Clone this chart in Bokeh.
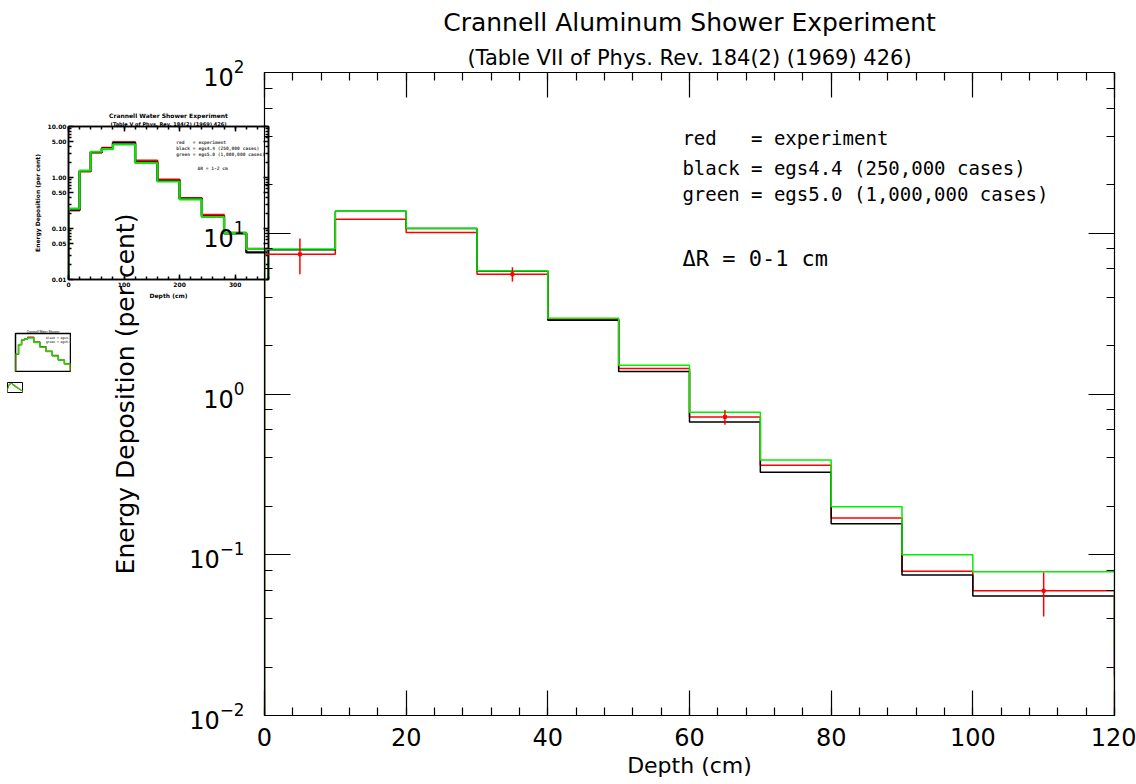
from bokeh.plotting import figure
from bokeh.models import (Range1d, LinearAxis, LogAxis, SingleIntervalTicker, LogTicker,
                          FixedTicker, Title, Label, NumeralTickFormatter, CustomJSTickFormatter)
from bokeh.embed import file_html
from bokeh.resources import INLINE

# ---------------- main chart data: Crannell aluminum, dR = 0-1 cm ----------------
depth_edges = [0, 10, 20, 30, 40, 50, 60, 70, 80, 90, 100, 120]
experiment = [7.4, 12.2, 10.1, 5.56, 2.92, 1.44, 0.72, 0.36, 0.169, 0.079, 0.0597]
egs44 = [7.9, 13.7, 10.7, 5.82, 2.88, 1.38, 0.67, 0.326, 0.156, 0.0748, 0.0553]
egs50 = [7.98, 13.7, 10.75, 5.85, 2.96, 1.51, 0.769, 0.388, 0.199, 0.100, 0.0784]
# value of the (unplotted) bin following the last edge
next_experiment = 0.001
next_egs44 = 0.0177
next_egs50 = 0.027
# experimental error bars
err_bins = [0, 3, 6, 10]
err_low = [5.56, 5.0, 0.644, 0.0413]
err_high = [9.27, 6.14, 0.795, 0.0776]

# ---------------- inset data: Crannell water, dR = 1-2 cm ----------------
water_edges = [0, 20, 40, 60, 80, 120, 160, 200, 240, 280, 320, 360]
water_experiment = [0.227, 1.31, 3.1, 3.8, 4.97, 2.15, 0.91, 0.395, 0.185, 0.082, 0.040]
water_egs44 = [0.235, 1.34, 3.15, 3.7, 4.7, 2.0, 0.86, 0.38, 0.172, 0.080, 0.034]
water_egs50 = [0.245, 1.37, 3.2, 3.6, 4.47, 1.93, 0.835, 0.372, 0.168, 0.082, 0.0396]

NB = "\u00a0"
legend_lines = ["red" + NB * 3 + "= experiment",
                "black = egs4.4 (250,000 cases)",
                "green = egs5.0 (1,000,000 cases)"]

FONT = "DejaVu Sans"
MONO = "DejaVu Sans Mono"
RED = "#ff0000"
GREEN = "#00ee00"
FLOOR = 0.001


def step_xy(edges, vals, nxt):
    xs = [edges[0]] + list(edges)
    ys = [FLOOR] + list(vals) + [nxt]
    return xs, ys


def style_axis(ax, tick_in, minor_in, lw=1.2):
    ax.axis_line_color = "black"
    ax.axis_line_width = lw
    ax.major_tick_in = tick_in
    ax.major_tick_out = 0
    ax.minor_tick_in = minor_in
    ax.minor_tick_out = 0
    ax.major_tick_line_color = "black"
    ax.minor_tick_line_color = "black"
    ax.major_tick_line_width = lw
    ax.minor_tick_line_width = lw
    ax.major_label_text_color = "black"
    ax.axis_label_text_color = "black"


def blank_labels(ax):
    ax.formatter = CustomJSTickFormatter(code="return ''")
    ax.major_label_text_font_size = "2px"
    ax.major_label_standoff = 0


# ================= main figure =================
p = figure(width=1136, height=784, x_range=Range1d(0, 120), y_range=Range1d(0.01, 100),
           y_axis_type="log", output_backend="svg", toolbar_location=None,
           title="Crannell Aluminum Shower Experiment",
           min_border_left=264, min_border_right=22, min_border_top=72, min_border_bottom=69)
p.background_fill_color = None
p.border_fill_color = None
p.outline_line_color = "black"
p.xgrid.visible = False
p.ygrid.visible = False
p.title.align = "center"
p.title.text_font = FONT
p.title.text_font_size = "25px"
p.title.text_font_style = "normal"
p.title.text_color = "black"
p.title.standoff = 7

xt = SingleIntervalTicker(interval=20, num_minor_ticks=5)
p.xaxis.ticker = xt
p.yaxis.ticker = LogTicker()
for ax in p.xaxis:
    style_axis(ax, 25, 8)
    ax.major_label_standoff = 12
    ax.major_label_text_font = FONT
    ax.major_label_text_font_size = "24px"
    ax.axis_label = "Depth (cm)"
    ax.axis_label_text_font = FONT
    ax.axis_label_text_font_size = "22px"
    ax.axis_label_text_font_style = "normal"
    ax.axis_label_standoff = 4
for ax in p.yaxis:
    style_axis(ax, 26, 8)
    ax.major_label_standoff = 20
    ax.major_label_text_font = FONT
    ax.major_label_text_font_size = "24px"
    ax.axis_label = "Energy Deposition (per cent)"
    ax.axis_label_text_font = FONT
    ax.axis_label_text_font_size = "25px"
    ax.axis_label_text_font_style = "normal"
    ax.axis_label_standoff = 46

top_ax = LinearAxis(ticker=xt)
style_axis(top_ax, 25, 8)
blank_labels(top_ax)
p.add_layout(top_ax, "above")
right_ax = LogAxis(ticker=LogTicker())
style_axis(right_ax, 26, 8)
blank_labels(right_ax)
p.add_layout(right_ax, "right")

p.add_layout(Title(text="(Table VII of Phys. Rev. 184(2) (1969) 426)", align="center",
                   text_font=FONT, text_font_size="21px", text_font_style="normal",
                   text_color="black", standoff=6), "above")

x, y = step_xy(depth_edges, experiment, next_experiment)
p.step(x, y, mode="after", line_color=RED, line_width=1.5)
x, y = step_xy(depth_edges, egs44, next_egs44)
p.step(x, y, mode="after", line_color="black", line_width=1.5)
x, y = step_xy(depth_edges, egs50, next_egs50)
p.step(x, y, mode="after", line_color=GREEN, line_width=1.5)

ex = [(depth_edges[b] + depth_edges[b + 1]) / 2 for b in err_bins]
ey = [experiment[b] for b in err_bins]
p.segment(ex, err_low, ex, err_high, line_color=RED, line_width=1.5)
p.scatter(ex, ey, marker="square", size=3, color=RED)

for i, t in enumerate(legend_lines):
    p.add_layout(Label(x=59.0, y=[39.0, 25.5, 17.6][i], text=t, text_font=MONO,
                       text_font_size="19px", text_baseline="middle", text_color="black"))
p.add_layout(Label(x=59.0, y=7.0, text="\u0394R = 0-1 cm", text_font=MONO,
                   text_font_size="22px", text_baseline="middle", text_color="black"))

# ================= inset figure =================
q = figure(width=282, height=202, x_range=Range1d(0, 360), y_range=Range1d(0.01, 10),
           y_axis_type="log", output_backend="svg", toolbar_location=None,
           title="Crannell Water Shower Experiment",
           min_border_left=68, min_border_right=14, min_border_top=26, min_border_bottom=23)
q.outline_line_color = "black"
q.outline_line_width = 1.5
q.xgrid.visible = False
q.ygrid.visible = False
q.title.align = "center"
q.title.text_font = FONT
q.title.text_font_size = "6px"
q.title.text_font_style = "bold"
q.title.text_color = "black"
q.title.standoff = 0

qxt = SingleIntervalTicker(interval=100, num_minor_ticks=5)
qyt = FixedTicker(ticks=[0.01, 0.05, 0.1, 0.5, 1, 5, 10],
                  minor_ticks=[0.02, 0.03, 0.04, 0.06, 0.07, 0.08, 0.09,
                               0.2, 0.3, 0.4, 0.6, 0.7, 0.8, 0.9,
                               2, 3, 4, 6, 7, 8, 9])
q.xaxis.ticker = qxt
q.yaxis.ticker = qyt
q.yaxis.formatter = NumeralTickFormatter(format="0.00")
for ax in list(q.xaxis) + list(q.yaxis):
    style_axis(ax, 5, 3, lw=1.5)
    ax.major_label_standoff = 2
    ax.major_label_text_font = FONT
    ax.major_label_text_font_size = "6px"
    ax.major_label_text_font_style = "bold"
    ax.axis_label_text_font = FONT
    ax.axis_label_text_font_size = "6px"
    ax.axis_label_text_font_style = "bold"
    ax.axis_label_standoff = 4
q.xaxis.axis_label = "Depth (cm)"
q.yaxis.axis_label = "Energy Deposition (per cent)"
q.xaxis.axis_label_standoff = 2

qtop = LinearAxis(ticker=qxt)
style_axis(qtop, 5, 3, lw=1.5)
blank_labels(qtop)
q.add_layout(qtop, "above")
qright = LogAxis(ticker=qyt)
style_axis(qright, 5, 3, lw=1.5)
blank_labels(qright)
q.add_layout(qright, "right")
q.add_layout(Title(text="(Table V of Phys. Rev. 184(2) (1969) 426)", align="center",
                   text_font=FONT, text_font_size="5px", text_font_style="bold",
                   text_color="black", standoff=0), "above")

x, y = step_xy(water_edges, water_experiment, FLOOR)
q.step(x, y, mode="after", line_color=RED, line_width=2.2)
x, y = step_xy(water_edges, water_egs44, FLOOR)
q.step(x, y, mode="after", line_color="black", line_width=2.2)
x, y = step_xy(water_edges, water_egs50, FLOOR)
q.step(x, y, mode="after", line_color="#11dd11", line_width=2.2)
for i, t in enumerate(legend_lines):
    q.add_layout(Label(x=194, y=[4.92, 3.66, 2.79][i], text=t, text_font=MONO,
                       text_font_size="4.6px", text_font_style="bold", text_baseline="middle"))
q.add_layout(Label(x=232, y=1.48, text="\u0394R = 1-2 cm", text_font=MONO,
                   text_font_size="4.6px", text_font_style="bold", text_baseline="middle"))


# ================= tiny thumbnails =================
def thumbnail(w, h, lw, font_px):
    t = figure(width=w, height=h, x_range=Range1d(0, 360), y_range=Range1d(0.01, 10),
               y_axis_type="log", output_backend="svg", toolbar_location=None,
               x_axis_location=None, y_axis_location=None,
               min_border_left=1, min_border_right=1, min_border_top=int(h * 0.12),
               min_border_bottom=1)
    t.background_fill_color = None
    t.border_fill_color = None
    t.outline_line_color = "black"
    t.outline_line_width = lw
    t.xgrid.visible = False
    t.ygrid.visible = False
    xx, yy = step_xy(water_edges, water_experiment, FLOOR)
    t.step(xx, yy, mode="after", line_color=RED, line_width=lw)
    xx, yy = step_xy(water_edges, water_egs50, FLOOR)
    t.step(xx, yy, mode="after", line_color="#11dd11", line_width=lw)
    if font_px:
        t.add_layout(Label(x=200, y=4.5, text="black = egs4.4", text_font=MONO,
                           text_font_size=f"{font_px}px", text_font_style="bold",
                           text_baseline="middle"))
        t.add_layout(Label(x=200, y=2.3, text="green = egs5.0", text_font=MONO,
                           text_font_size=f"{font_px}px", text_font_style="bold",
                           text_baseline="middle"))
    return t


r = thumbnail(57, 44, 1.5, 3)
r.title.text = "Crannell Water Shower"
r.title.text_font_size = "3px"
r.title.text_font_style = "bold"
r.title.align = "center"
r.title.standoff = 0
r2 = thumbnail(17, 12, 1, 0)

q.styles = {"position": "absolute", "left": "0px", "top": "100px", "z-index": "1"}
r.styles = {"position": "absolute", "left": "14px", "top": "328px", "z-index": "1"}
r2.styles = {"position": "absolute", "left": "6px", "top": "381px", "z-index": "1"}
p.styles = {"position": "absolute", "left": "0px", "top": "0px", "z-index": "3"}

open("out.html", "w").write(file_html([q, r, r2, p], INLINE))
